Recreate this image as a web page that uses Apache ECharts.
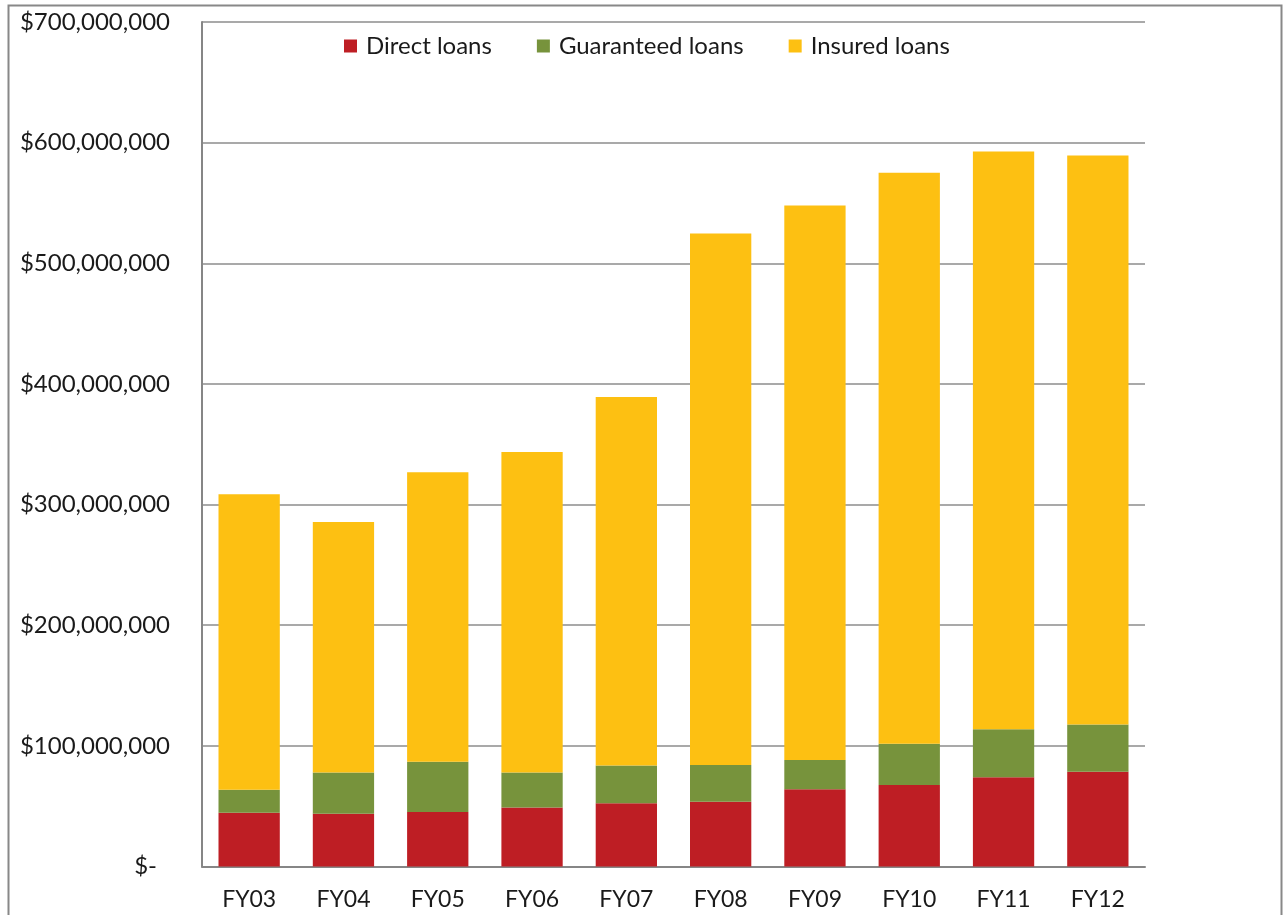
<!DOCTYPE html>
<html>
<head>
<meta charset="utf-8">
<script src="https://cdn.jsdelivr.net/npm/echarts@6/dist/echarts.min.js"></script>
<style>
html,body{margin:0;padding:0;background:#fff;}
#chart{width:1283px;height:915px;}
</style>
</head>
<body>
<div id="chart"></div>
<script>
const categories = ['FY03','FY04','FY05','FY06','FY07','FY08','FY09','FY10','FY11','FY12'];
const directLoans = [44.6e6, 43.7e6, 45.1e6, 49.0e6, 52.4e6, 53.7e6, 64.0e6, 67.5e6, 73.9e6, 78.5e6];
const guaranteedLoans = [19.0e6, 34.3e6, 41.7e6, 29.0e6, 31.4e6, 30.4e6, 24.2e6, 34.2e6, 39.8e6, 39.3e6];
const insuredLoans = [245.0e6, 207.6e6, 240.0e6, 265.6e6, 305.4e6, 440.5e6, 459.6e6, 473.4e6, 479.0e6, 471.6e6];
const yTicks = { min: 0, max: 700000000, interval: 100000000 };
const seriesNames = ['Direct loans', 'Guaranteed loans', 'Insured loans'];
const colors = ['#BE1E24', '#77933C', '#FDC012'];

const FONT = 'Lato';
function fmt(v) {
  if (v === 0) return '{z|$-}';
  return '$' + String(Math.round(v)).replace(/\B(?=(\d{3})+(?!\d))/g, ',');
}

const chart = echarts.init(document.getElementById('chart'));
chart.setOption({
  animation: false,
  color: colors,
  textStyle: { fontFamily: FONT },
  graphic: [{
    type: 'rect',
    shape: { x: 8.5, y: 5.5, width: 1273, height: 940 },
    style: { fill: null, stroke: '#888', lineWidth: 2 },
    silent: true
  }],
  legend: {
    left: 339,
    top: 29,
    itemWidth: 13,
    itemHeight: 13,
    itemGap: 45,
    icon: 'rect',
    textStyle: { fontFamily: FONT, fontSize: 24, color: '#1a1a1a', padding: [0, 0, 0, 4] },
    data: seriesNames
  },
  grid: { left: 202, right: 138, top: 22, bottom: 48.5 },
  xAxis: {
    type: 'category',
    data: categories,
    axisLine: { lineStyle: { color: '#868686', width: 2 } },
    axisTick: { show: false },
    axisLabel: { color: '#1a1a1a', fontSize: 23, fontFamily: FONT, margin: 22 }
  },
  yAxis: {
    type: 'value',
    min: yTicks.min,
    max: yTicks.max,
    interval: yTicks.interval,
    axisLine: { show: true, lineStyle: { color: '#868686', width: 2 } },
    axisTick: { show: false },
    splitLine: { lineStyle: { color: '#8c8c8c', width: 1.5 } },
    axisLabel: {
      color: '#1a1a1a', fontSize: 24, fontFamily: FONT, margin: 32,
      formatter: fmt,
      rich: { z: { fontSize: 24, fontFamily: FONT, color: '#1a1a1a', padding: [0, 13, 0, 0] } }
    }
  },
  series: [
    { name: seriesNames[0], type: 'bar', stack: 'total', data: directLoans, barWidth: '65%' },
    { name: seriesNames[1], type: 'bar', stack: 'total', data: guaranteedLoans, barWidth: '65%' },
    { name: seriesNames[2], type: 'bar', stack: 'total', data: insuredLoans, barWidth: '65%' }
  ]
});
</script>
</body>
</html>
